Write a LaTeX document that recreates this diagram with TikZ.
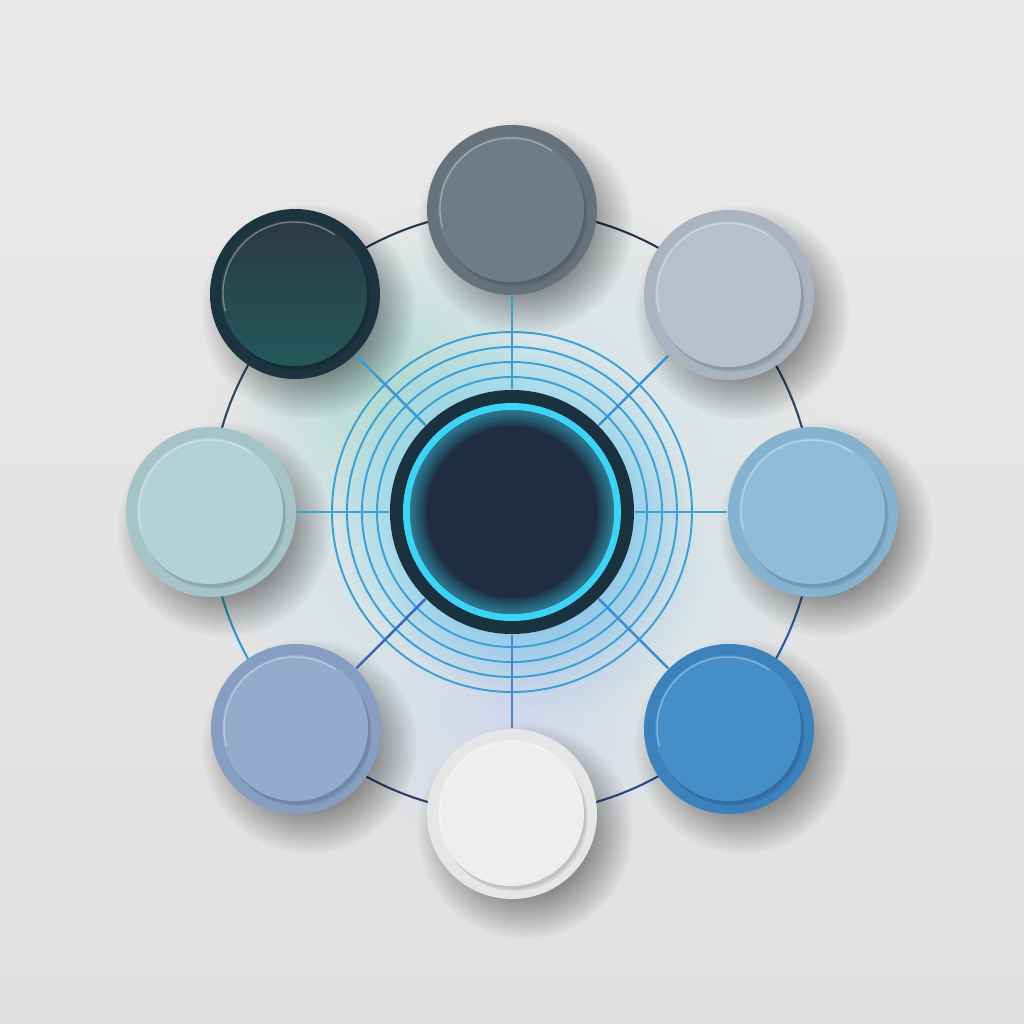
\documentclass[tikz,border=0pt]{standalone}
\usetikzlibrary{calc}
\usetikzlibrary{fadings}
\usepackage{xcolor}

\definecolor{bgtop}{HTML}{EAEAEA}
\definecolor{bgbot}{HTML}{E0E0E0}
\definecolor{tintcyan}{HTML}{BFE3EE}
\definecolor{tintgreen}{HTML}{A6D8CB}
\definecolor{tintlav}{HTML}{CDD0EE}
\definecolor{glowcyan}{HTML}{6CCFF0}
\definecolor{glowblue}{HTML}{3F8FE0}
\definecolor{ringblue}{HTML}{3BA0D8}
\definecolor{hubrim}{HTML}{1A323F}
\definecolor{hubcore}{HTML}{1F2F40}
\definecolor{hubring}{HTML}{3ED2F4}

\definecolor{rimN}{HTML}{66727B}  \definecolor{faceN}{HTML}{707C85}
\definecolor{rimNE}{HTML}{A9B4C1} \definecolor{faceNE}{HTML}{B6C0CD}
\definecolor{rimE}{HTML}{84B2CF}  \definecolor{faceE}{HTML}{90BCD8}
\definecolor{rimSE}{HTML}{3B82BD} \definecolor{faceSE}{HTML}{458EC7}
\definecolor{rimS}{HTML}{E6E6E6}  \definecolor{faceS}{HTML}{EFEEEF}
\definecolor{rimSW}{HTML}{879EC2} \definecolor{faceSW}{HTML}{95ABCB}
\definecolor{rimW}{HTML}{A6C4C8}  \definecolor{faceW}{HTML}{B4D1D6}
\definecolor{rimNW}{HTML}{1C3440} \definecolor{faceNW}{HTML}{28464F}
\definecolor{nwtop}{HTML}{2C3846} \definecolor{nwbot}{HTML}{235859}

\definecolor{spkN}{HTML}{3A9FC8}  \definecolor{spkNE}{HTML}{3490D2}
\definecolor{spkE}{HTML}{3BA3D6}  \definecolor{spkSE}{HTML}{3A8CD2}
\definecolor{spkS}{HTML}{4A86CC}  \definecolor{spkSW}{HTML}{3A66BE}
\definecolor{spkW}{HTML}{3AA4D4}  \definecolor{spkNW}{HTML}{3A9AD0}

\definecolor{arcA}{HTML}{23384F} \definecolor{arcB}{HTML}{2A4A68}
\definecolor{arcC}{HTML}{2D5C9E} \definecolor{arcD}{HTML}{2A4B8E}
\definecolor{arcE}{HTML}{2E4372} \definecolor{arcF}{HTML}{3A9ACB}
\definecolor{arcG}{HTML}{2A4C66} \definecolor{arcH}{HTML}{22394F}

\pgfdeclareradialshading{softdiscshade}{\pgfpointorigin}{color(0bp)=(pgftransparent!0); color(25bp)=(pgftransparent!100); color(50bp)=(pgftransparent!100)}
\pgfdeclarefading{softdisc}{\pgfuseshading{softdiscshade}}
\pgfdeclareradialshading{glowdiscshade}{\pgfpointorigin}{color(0bp)=(pgftransparent!0); color(14bp)=(pgftransparent!0); color(25bp)=(pgftransparent!100); color(50bp)=(pgftransparent!100)}
\pgfdeclarefading{glowdisc}{\pgfuseshading{glowdiscshade}}
\pgfdeclareradialshading{shadowdiscshade}{\pgfpointorigin}{color(0bp)=(pgftransparent!0); color(15bp)=(pgftransparent!10); color(25bp)=(pgftransparent!100); color(50bp)=(pgftransparent!100)}
\pgfdeclarefading{shadowdisc}{\pgfuseshading{shadowdiscshade}}

\tikzset{
  knob/.style={circle, inner sep=0pt, minimum size=1.7cm},
  spoke/.style={line width=.7pt},
  halo/.style={line width=.55pt, ringblue},
}

\begin{document}
\begin{tikzpicture}
\useasboundingbox (-5.12,-5.12) rectangle (5.12,5.12);
\shade[top color=bgtop, bottom color=bgbot] (-5.12,-5.12) rectangle (5.12,5.12);

\coordinate (pN) at (0,3.02);
\coordinate (pNE) at (2.17,2.17);
\coordinate (pE) at (3.01,0);
\coordinate (pSE) at (2.17,-2.17);
\coordinate (pS) at (0,-3.02);
\coordinate (pSW) at (-2.16,-2.17);
\coordinate (pW) at (-3.01,0);
\coordinate (pNW) at (-2.17,2.18);

\fill[tintcyan, opacity=.75, path fading=softdisc] (0,0) circle (3.2);
\fill[tintgreen, opacity=.75, path fading=softdisc] (-1.25,1.25) circle (1.5);
\fill[tintlav, opacity=.6, path fading=softdisc] (0,-2.1) circle (1.6);

\foreach \a/\b/\c in {90/45/arcA, 45/0/arcB, 0/-45/arcC, -45/-90/arcD, -90/-135/arcE, -135/-180/arcF, 180/135/arcG, 135/90/arcH}
  \draw[line width=.6pt, \c] (\a:3.02) arc (\a:\b:3.02);

\fill[glowcyan, opacity=.6, path fading=glowdisc] (0,0) circle (1.75);
\fill[glowblue, opacity=.35, path fading=softdisc] (.35,-.45) circle (1.6);

\foreach \r in {1.35,1.5,1.65,1.8}
  \draw[halo] (0,0) circle (\r);

\foreach \k in {N,NE,E,SE,S,SW,W,NW}
  \fill[black, opacity=.42, path fading=shadowdisc] ($(p\k)+(.13,-.17)$) circle (1.08);

\foreach \k in {N,NE,E,SE,S,SW,W,NW}{
  \node[knob, fill=rim\k] (\k) at (p\k) {};
  \fill[black, opacity=.08] ($(\k)+(.025,-.04)$) circle (.73);
  \fill[black, opacity=.08] ($(\k)+(.01,-.02)$) circle (.73);
  \fill[face\k] ($(\k)+(-.01,.01)$) circle (.73);
}
\shade[top color=nwtop, bottom color=nwbot] ($(NW)+(-.01,.01)$) circle (.73);
\foreach \k in {N,NE,E,SE,S,SW,W,NW}
  \draw[white, opacity=.35, line width=.4pt] ($(\k)+(-.01,.01)+(195:.71)$) arc (195:55:.71);

\node[circle, fill=hubrim, inner sep=0pt, minimum size=2.44cm] (hub) at (0,0) {};
\fill[hubring] (hub) circle (1.09);
\fill[hubcore] (hub) circle (1.02);
\begin{scope}
  \clip (hub) circle (1.02);
  \foreach \w in {1.5,3,...,9}
    \draw[hubring, opacity=.09, line width=\w pt] (hub) circle (1.02);
\end{scope}

\foreach \k in {N,NE,E,SE,S,SW,W,NW}
  \draw[spoke, spk\k] (hub) -- (\k);
\end{tikzpicture}
\end{document}
